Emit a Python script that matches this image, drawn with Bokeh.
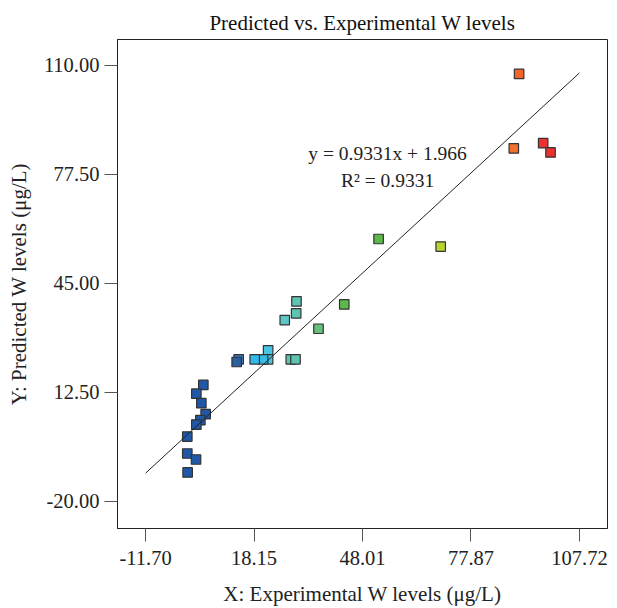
from bokeh.plotting import figure
from bokeh.models import FixedTicker, PrintfTickFormatter, Label, Range1d, ColumnDataSource
from bokeh.embed import file_html
from bokeh.resources import INLINE

# Data
experimental = [29.84, 29.75, 26.61, 42.99, 35.90, 22.04, 22.04, 20.66, 18.34, 13.93,
                13.38, 28.27, 29.57, 4.20, 2.28, 3.65, 4.84, 3.38, 2.28, -0.21,
                -0.21, 2.19, -0.12, 91.11, 89.65, 97.73, 99.76, 52.44, 69.53]
predicted = [39.56, 35.99, 33.99, 38.67, 31.40, 24.97, 22.29, 22.29, 22.29, 22.29,
             21.48, 22.29, 22.29, 14.63, 12.04, 9.18, 5.91, 4.12, 2.81, -0.76,
             -5.83, -7.61, -11.48, 107.44, 85.19, 86.77, 84.00, 58.18, 55.92]
colors = ["#5ec4b2", "#5ec4b2", "#5cc6c8", "#5cb848", "#66c07c", "#48c4e4", "#48c4e4",
          "#34bce8", "#30b8e8", "#3a7cc4", "#2a5fa0", "#5ec4b2", "#5ec4b2", "#1f58a8",
          "#1f58a8", "#1f58a8", "#1f58a8", "#1f58a8", "#1f58a8", "#1f58a8", "#1f58a8",
          "#1f58a8", "#1f58a8", "#f2642a", "#f07030", "#ec3030", "#ec3030", "#5cb848",
          "#b8d430"]

x_ticks = [-11.70, 18.15, 48.01, 77.87, 107.72]
y_ticks = [-20.00, 12.50, 45.00, 77.50, 110.00]

equation_text = "y = 0.9331x + 1.966"
r2_text = "R\u00b2 = 0.9331"

FONT = "Liberation Serif"

src = ColumnDataSource(dict(x=experimental, y=predicted, c=colors))

p = figure(width=617, height=608, output_backend="svg", toolbar_location=None,
           x_range=Range1d(-19.42, 115.44), y_range=Range1d(-28.2, 117.7),
           min_border_left=117, min_border_right=10, min_border_top=39, min_border_bottom=79,
           title="Predicted vs. Experimental W levels")

p.title.align = "center"
p.title.text_font = FONT
p.title.text_font_size = "21px"
p.title.text_font_style = "normal"
p.title.text_color = "#111111"

p.xgrid.visible = False
p.ygrid.visible = False
p.outline_line_color = "#222222"
p.outline_line_width = 1
p.outline_line_alpha = 1.0

p.xaxis.ticker = FixedTicker(ticks=x_ticks)
p.yaxis.ticker = FixedTicker(ticks=y_ticks)
p.xaxis.formatter = PrintfTickFormatter(format="%.2f")
p.yaxis.formatter = PrintfTickFormatter(format="%.2f")

for ax in (p.xaxis, p.yaxis):
    ax.axis_line_color = "#222222"
    ax.major_tick_line_color = "#555555"
    ax.major_tick_out = 13
    ax.major_tick_in = 0
    ax.minor_tick_line_color = None
    ax.major_label_text_font = FONT
    ax.major_label_text_font_size = "20.5px"
    ax.major_label_text_color = "#222222"
    ax.axis_label_text_font = FONT
    ax.axis_label_text_font_size = "21px"
    ax.axis_label_text_font_style = "normal"
    ax.axis_label_text_color = "#222222"

p.xaxis.major_label_standoff = 9
p.yaxis.major_label_standoff = 5
p.xaxis.axis_label = "X: Experimental W levels (\u03bcg/L)"
p.yaxis.axis_label = "Y: Predicted W levels (\u03bcg/L)"
p.xaxis.axis_label_standoff = 14
p.yaxis.axis_label_standoff = 10

p.scatter("x", "y", source=src, marker="square", size=9.5, fill_color="c",
          line_color="#333333", line_width=1.2)

p.line([x_ticks[0], x_ticks[-1]], [x_ticks[0], x_ticks[-1]], line_color="#222222", line_width=1)

p.add_layout(Label(x=54.9, y=83.7, text=equation_text, text_align="center", text_baseline="middle",
                   text_font=FONT, text_font_size="19.5px", text_color="#222222"))
p.add_layout(Label(x=54.9, y=75.7, text=r2_text, text_align="center", text_baseline="middle",
                   text_font=FONT, text_font_size="19.5px", text_color="#222222"))

open("out.html", "w").write(file_html(p, INLINE))
